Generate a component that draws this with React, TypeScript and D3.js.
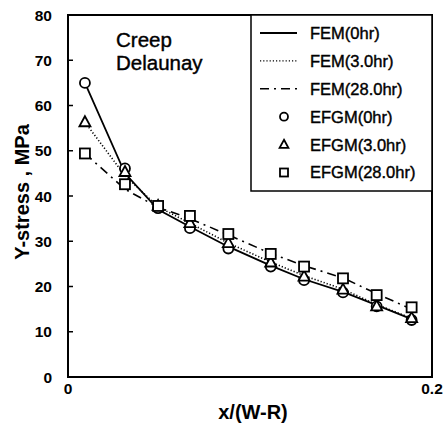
import React from "react";
import * as d3 from "d3";

const xPos = [0.0093, 0.0313, 0.0495, 0.067, 0.0881, 0.1114, 0.1297, 0.1511, 0.1696, 0.1888];
const efgm0 = [65.0, 46.1, 37.3, 32.9, 28.4, 24.4, 21.4, 18.7, 15.6, 12.6];
const efgm3 = [56.3, 45.3, 37.8, 34.0, 29.6, 25.3, 22.2, 19.3, 15.6, 13.0];
const efgm28 = [49.4, 42.6, 37.8, 35.6, 31.6, 27.2, 24.4, 21.8, 18.1, 15.4];
const fem0 = [65.0, 45.0, 37.0, 33.2, 28.8, 24.6, 21.6, 18.8, 15.9, 12.8];
const fem3 = [56.3, 44.5, 37.6, 34.0, 29.6, 25.4, 22.4, 19.4, 16.0, 13.0];
const fem28 = [49.4, 41.5, 37.5, 35.0, 31.4, 27.3, 24.6, 21.9, 18.4, 15.0];
const yTicks = [0, 10, 20, 30, 40, 50, 60, 70, 80];
const xTickLabels = ["0", "0.2"];
const xTickValues = [0, 0.2];
const legendLabels = ["FEM(0hr)", "FEM(3.0hr)", "FEM(28.0hr)", "EFGM(0hr)", "EFGM(3.0hr)", "EFGM(28.0hr)"];

const W = 448, H = 428;
const left = 68, right = 432, top = 15, bottom = 377;
const font = "Liberation Sans, Arial, Helvetica, sans-serif";

export default function App() {
  const x = d3.scaleLinear().domain([0, 0.2]).range([left, right]);
  const y = d3.scaleLinear().domain([0, 80]).range([bottom, top]);
  const line = (vals: number[]) =>
    d3.line<number>().x((_, i) => x(xPos[i])).y((v) => y(v))(vals) || "";

  const circle = (cx: number, cy: number, k: string, r = 5) => (
    <circle key={k} cx={cx} cy={cy} r={r} fill="white" stroke="black" strokeWidth={1.8} />
  );
  const tri = (cx: number, cy: number, k: string, s = 1) => (
    <path key={k} d={`M${cx},${cy - 6 * s}L${cx + 5.5 * s},${cy + 4 * s}L${cx - 5.5 * s},${cy + 4 * s}Z`} fill="white" stroke="black" strokeWidth={1.8} />
  );
  const sq = (cx: number, cy: number, k: string, h = 5) => (
    <rect key={k} x={cx - h} y={cy - h} width={2 * h} height={2 * h} fill="white" stroke="black" strokeWidth={1.8} />
  );

  const lgX = 251, lgTop = top, lgBottom = 191;
  const rowY = (i: number) => 33 + i * 27.9;
  const dashes = ["none", "1.2 2", "9 5 2 5"];

  return (
    <svg width={W} height={H} style={{ display: "block", position: "absolute", left: 0, top: 0 }}>
      <rect x={0} y={0} width={W} height={H} fill="white" />
      <rect x={left} y={top} width={right - left} height={bottom - top} fill="none" stroke="black" strokeWidth={2} />
      {yTicks.map((t) => (
        <g key={t}>
          <line x1={left} x2={left + 5} y1={y(t)} y2={y(t)} stroke="black" strokeWidth={1.5} />
          <text x={52} y={y(t)} dy="0.36em" textAnchor="end" fontFamily={font} fontSize={15.5} fontWeight="bold">{t}</text>
        </g>
      ))}
      {xTickValues.map((t, i) => (
        <text key={t} x={x(t)} y={394} textAnchor="middle" fontFamily={font} fontSize={15.5} fontWeight="bold">{xTickLabels[i]}</text>
      ))}
      <text x={253} y={419} textAnchor="middle" fontFamily={font} fontSize={20} fontWeight="bold">x/(W-R)</text>
      <text transform={`translate(29,192) rotate(-90)`} textAnchor="middle" fontFamily={font} fontSize={20} fontWeight="bold">Y-stress , MPa</text>
      <text x={116} y={47} fontFamily={font} fontSize={20.5} stroke="black" strokeWidth={0.4}>Creep</text>
      <text x={116} y={70} fontFamily={font} fontSize={20.5} stroke="black" strokeWidth={0.4}>Delaunay</text>

      <path d={line(fem0)} fill="none" stroke="black" strokeWidth={1.8} />
      <path d={line(fem3)} fill="none" stroke="black" strokeWidth={1.6} strokeDasharray="1.2 2" />
      <path d={line(fem28)} fill="none" stroke="black" strokeWidth={1.6} strokeDasharray="9 5 2 5" />
      {efgm0.map((v, i) => circle(x(xPos[i]), y(v), "c" + i))}
      {efgm3.map((v, i) => tri(x(xPos[i]), y(v), "t" + i))}
      {efgm28.map((v, i) => sq(x(xPos[i]), y(v), "s" + i))}

      <rect x={lgX} y={lgTop} width={right - lgX} height={lgBottom - lgTop} fill="white" stroke="black" strokeWidth={1.5} />
      {legendLabels.map((lab, i) => {
        const ry = rowY(i);
        let sym: React.ReactNode;
        if (i < 3) sym = <line x1={260} x2={297} y1={ry} y2={ry} stroke="black" strokeWidth={i === 0 ? 1.8 : 1.4} strokeDasharray={dashes[i]} />;
        else if (i === 3) sym = circle(284, ry, "lc", 4);
        else if (i === 4) sym = tri(284, ry, "lt", 0.8);
        else sym = sq(284, ry, "ls", 4);
        return (
          <g key={lab}>
            {sym}
            <text x={310} y={ry} dy="0.36em" fontFamily={font} fontSize={16.5} stroke="black" strokeWidth={0.4}>{lab}</text>
          </g>
        );
      })}
    </svg>
  );
}
